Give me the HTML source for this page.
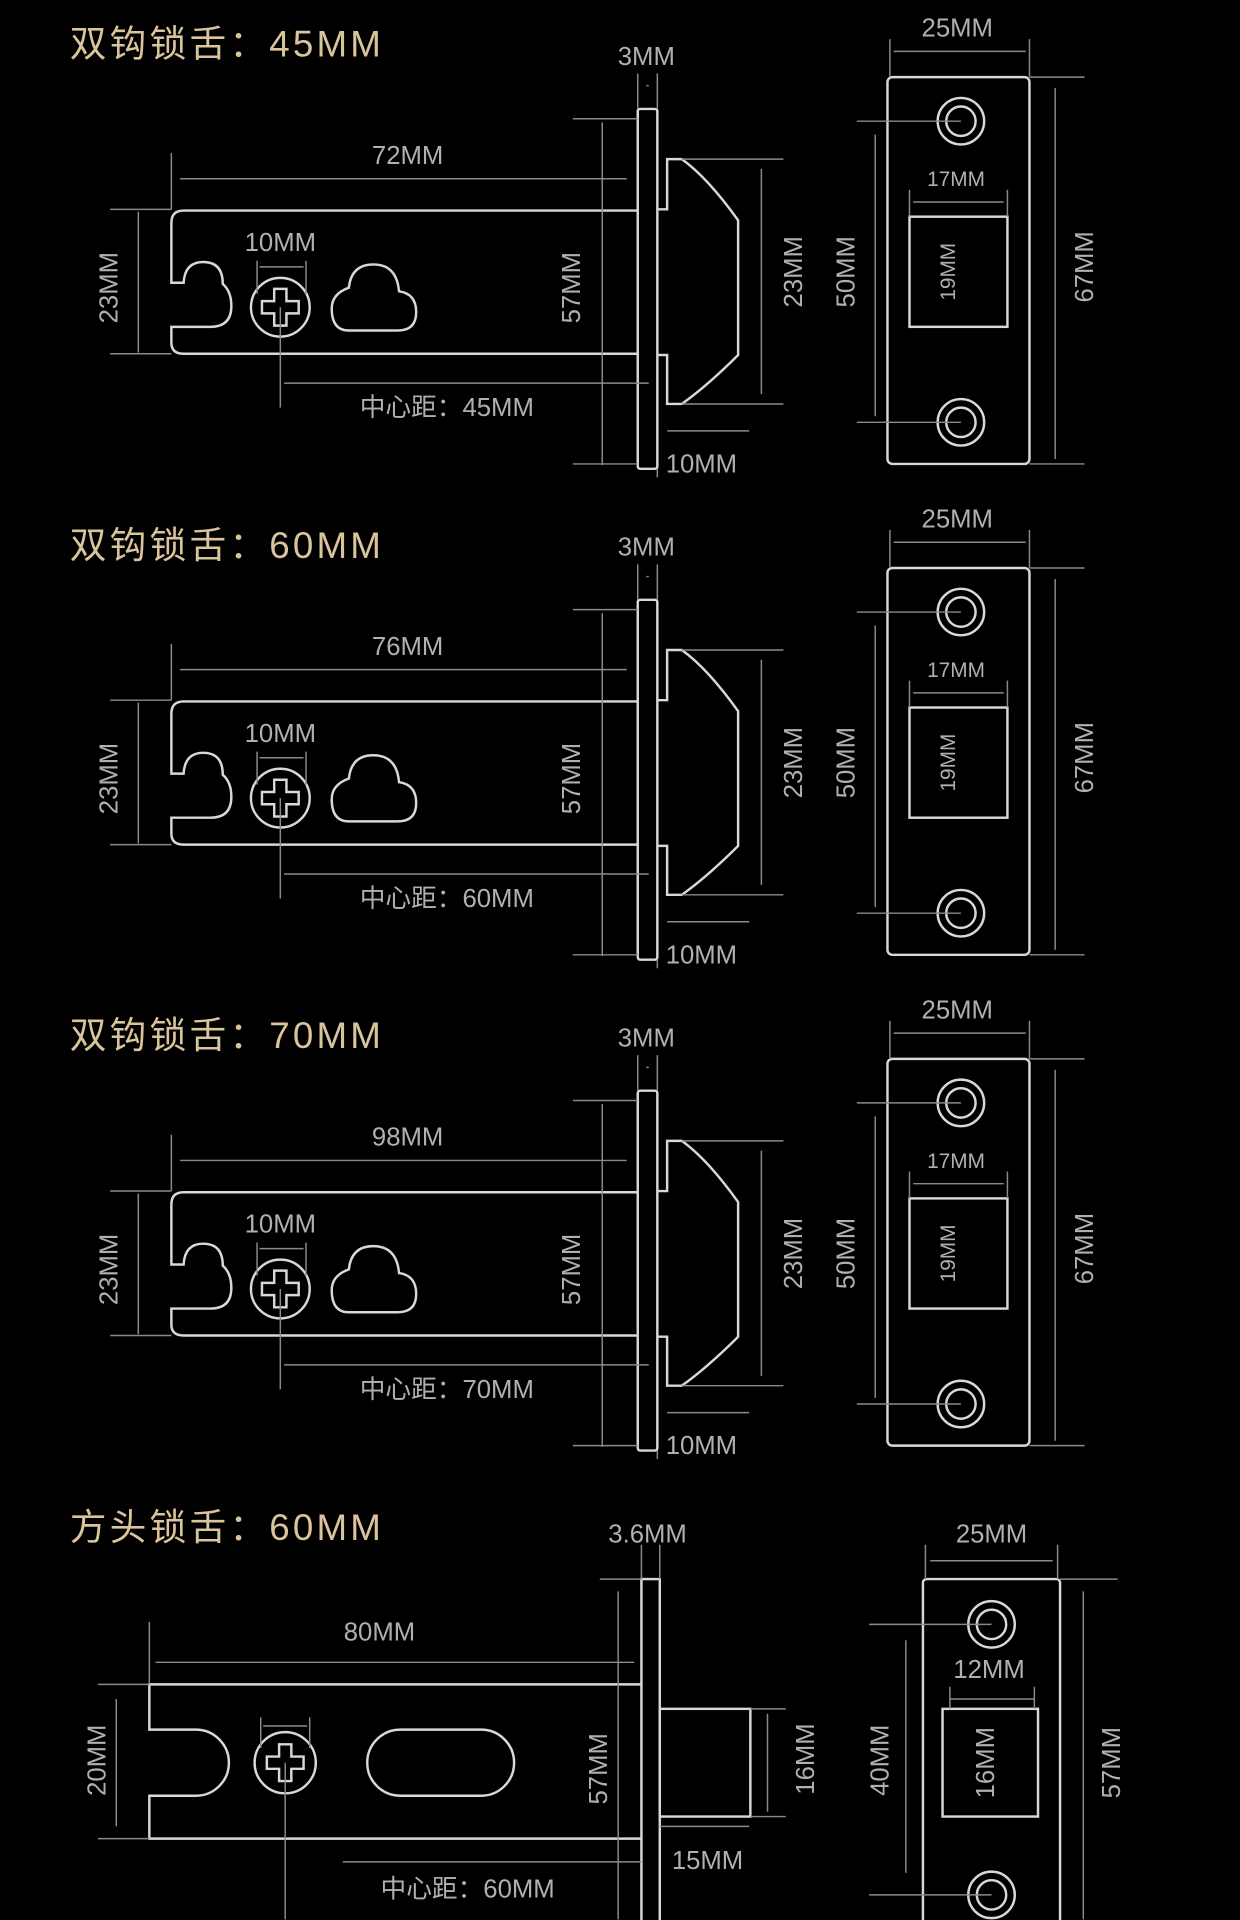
<!DOCTYPE html>
<html><head><meta charset="utf-8"><style>html,body{margin:0;padding:0;background:#000;}svg{display:block}</style></head>
<body>
<svg width="1240" height="1920" viewBox="0 0 1013 1568.5" xmlns="http://www.w3.org/2000/svg">
<defs>
<g id="sec">
  <rect x="521" y="89" width="16" height="294" rx="2" fill="none" stroke="#d8d8d8" stroke-width="2"/>
  <path d="M521,172 H150 Q140,172 140,182 V231 H150 Q151,214 166,214 Q182,214 182,232 Q189,238 189,250 Q189,267 172,267 H140 V280 Q140,289 150,289 H521" fill="none" stroke="#d8d8d8" stroke-width="2"/>
  <circle cx="229" cy="251" r="24" fill="none" stroke="#d8d8d8" stroke-width="2"/>
  <path d="M224,236 H234 V246 H244 V256 H234 V266 H224 V256 H214 V246 H224 Z" fill="none" stroke="#d8d8d8" stroke-width="2"/>
  <path d="M285,270 H325 Q340,270 340,255 Q340,240 326,238 Q324,216 305,216 Q287,216 285,235 Q271,240 271,252 Q271,270 285,270 Z" fill="none" stroke="#d8d8d8" stroke-width="2"/>
  <path d="M537,171 H545 V130 H557 Q578,145 603,180 V290 Q578,315 557,330 H545 V290 H537" fill="none" stroke="#d8d8d8" stroke-width="2"/>
  <rect x="725" y="63" width="116" height="316" rx="4" fill="none" stroke="#d8d8d8" stroke-width="2"/>
  <circle cx="785" cy="99" r="19" fill="none" stroke="#d8d8d8" stroke-width="2"/>
  <circle cx="785" cy="99" r="12" fill="none" stroke="#d8d8d8" stroke-width="2"/>
  <circle cx="785" cy="345" r="19" fill="none" stroke="#d8d8d8" stroke-width="2"/>
  <circle cx="785" cy="345" r="12" fill="none" stroke="#d8d8d8" stroke-width="2"/>
  <rect x="743" y="177" width="80" height="90" fill="none" stroke="#d8d8d8" stroke-width="2"/>
  <g stroke="#8a8a8a" stroke-width="1.2" fill="none">
    <path d="M521,60 V89 M537,60 V89 M528,70 H530"/>
    <path d="M468,97 H521 M468,379 H521 M492,100 V380"/>
    <path d="M140,125 V171 M147,146 H512"/>
    <path d="M90,171 H140 M90,289 H140 M113,173 V288"/>
    <path d="M210,213 V240 M250,213 V240 M212,218 H248"/>
    <path d="M229,251 V333 M232,313 H530"/>
    <path d="M557,130 H640 M557,330 H640 M622,138 V322"/>
    <path d="M545,352 H612 M537,383 V390"/>
    <path d="M700,99 H785 M700,345 H785 M715,110 V340"/>
    <path d="M841,63 H886 M841,379 H886 M862,72 V375"/>
    <path d="M727,32 V63 M841,32 V63 M730,42 H838"/>
    <path d="M743,155 V177 M823,155 V177 M746,165 H820"/>
  </g>
  <g fill="#b0b0b0" font-family="Liberation Sans, sans-serif" font-size="21" text-anchor="middle">
    <text x="528" y="53">3MM</text>
    <text x="229" y="205">10MM</text>
    <text x="573" y="386">10MM</text>
    <text x="782" y="30">25MM</text>
    <text x="781" y="152" font-size="17">17MM</text>
    <text transform="translate(96,235) rotate(-90)">23MM</text>
    <text transform="translate(474,235) rotate(-90)">57MM</text>
    <text transform="translate(655,222) rotate(-90)">23MM</text>
    <text transform="translate(698,222) rotate(-90)">50MM</text>
    <text transform="translate(893,218) rotate(-90)">67MM</text>
    <text transform="translate(780,222) rotate(-90)" font-size="17">19MM</text>
  </g>
</g>
</defs>
<rect width="1013" height="1568.5" fill="#000"/>
<g font-family="Liberation Sans, 'Noto Sans CJK SC', sans-serif" font-size="30" fill="#d9c49c" letter-spacing="2.6">
  <text x="57" y="46">双钩锁舌：45MM</text>
  <text x="57" y="456">双钩锁舌：60MM</text>
  <text x="57" y="856">双钩锁舌：70MM</text>
  <text x="57" y="1258">方头锁舌：60MM</text>
</g>
<use href="#sec"/>
<use href="#sec" transform="translate(0,401)"/>
<use href="#sec" transform="translate(0,802)"/>
<g fill="#b0b0b0" font-family="Liberation Sans, 'Noto Sans CJK SC', sans-serif" font-size="21" text-anchor="middle">
  <text x="333" y="134">72MM</text>
  <text x="365" y="340">中心距：45MM</text>
  <text x="333" y="535">76MM</text>
  <text x="365" y="741">中心距：60MM</text>
  <text x="333" y="936">98MM</text>
  <text x="365" y="1142">中心距：70MM</text>
</g>
<g fill="none" stroke="#d8d8d8" stroke-width="2">
  <rect x="524" y="1290" width="15" height="300"/>
  <path d="M524,1376 H122 V1413 H160 A27,27 0 0 1 160,1467 H122 V1502 H524"/>
  <circle cx="233" cy="1440" r="25"/>
  <path d="M228,1425 H238 V1435 H248 V1445 H238 V1455 H228 V1445 H218 V1435 H228 Z"/>
  <rect x="300" y="1413" width="120" height="54" rx="27"/>
  <rect x="539" y="1396" width="74" height="88"/>
  <rect x="754" y="1290" width="112" height="300" rx="3"/>
  <circle cx="810" cy="1327" r="19"/><circle cx="810" cy="1327" r="12"/>
  <circle cx="810" cy="1548" r="19"/><circle cx="810" cy="1548" r="12"/>
  <rect x="770" y="1396" width="78" height="88"/>
</g>
<g stroke="#8a8a8a" stroke-width="1.2" fill="none">
  <path d="M524,1262 V1290 M539,1262 V1290 M490,1290 H524 M505,1300 V1568"/>
  <path d="M122,1325 V1376 M127,1358 H518"/>
  <path d="M80,1376 H122 M80,1502 H122 M95,1388 V1492"/>
  <path d="M213,1403 V1428 M253,1403 V1428 M215,1410 H251"/>
  <path d="M233,1440 V1568 M280,1521 H524"/>
  <path d="M613,1396 H642 M613,1484 H642 M627,1400 V1480 M539,1492 H612"/>
  <path d="M756,1262 V1290 M864,1262 V1290 M760,1275 H860 M866,1290 H913 M885,1300 V1568"/>
  <path d="M710,1327 H810 M710,1548 H810 M740,1340 V1530"/>
  <path d="M776,1388 H845 M776,1378 V1396 M845,1378 V1396"/>
</g>
<g fill="#b0b0b0" font-family="Liberation Sans, 'Noto Sans CJK SC', sans-serif" font-size="21" text-anchor="middle">
  <text x="529" y="1260">3.6MM</text>
  <text x="810" y="1260">25MM</text>
  <text x="310" y="1340">80MM</text>
  <text x="808" y="1371">12MM</text>
  <text x="578" y="1527">15MM</text>
  <text x="382" y="1550">中心距：60MM</text>
  <text transform="translate(86,1438) rotate(-90)">20MM</text>
  <text transform="translate(496,1445) rotate(-90)">57MM</text>
  <text transform="translate(665,1437) rotate(-90)">16MM</text>
  <text transform="translate(726,1438) rotate(-90)">40MM</text>
  <text transform="translate(812,1440) rotate(-90)">16MM</text>
  <text transform="translate(915,1440) rotate(-90)">57MM</text>
</g>
</svg>
</body></html>
